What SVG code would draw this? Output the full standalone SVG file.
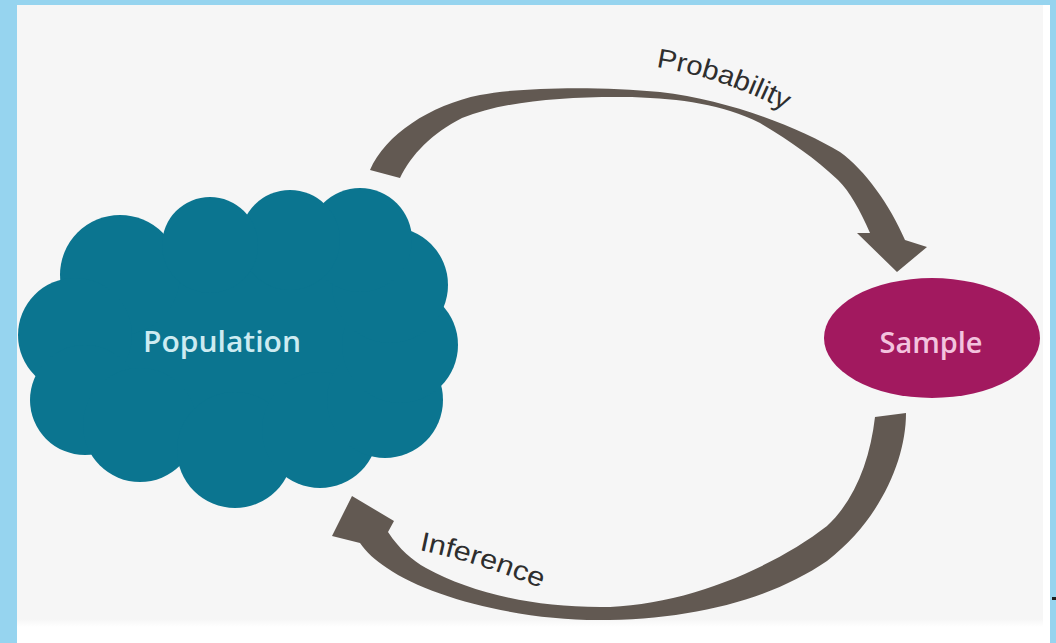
<svg xmlns="http://www.w3.org/2000/svg" width="1056" height="643" viewBox="0 0 1056 643">
  <defs>
    <style>
      .frame { fill: #96d4ef; }
      .sheet { fill: #ffffff; }
      .panel { fill: #f6f6f6; }
      .cloud { fill: #0b7590; }
      .sample { fill: #a2195f; }
      .arrow { fill: #625952; }
      .node-label { font-family: "Open Sans", "Liberation Sans", sans-serif; font-weight: 600; font-size: 28px; text-anchor: middle; }
      .edge-label { font-family: "Liberation Sans", Arial, sans-serif; font-size: 27px; fill: #2e2e2e; }
    </style>
    <linearGradient id="panelFade" x1="0" y1="0" x2="0" y2="1">
      <stop offset="0" stop-color="#f6f6f6"/>
      <stop offset="1" stop-color="#ffffff"/>
    </linearGradient>
    <path id="probPath" d="M 656,67 Q 733,79 808,123"/>
    <path id="infPath" d="M 419,550 Q 482,563 552,593"/>
  </defs>

  <!-- backdrop -->
  <rect class="frame" x="0" y="0" width="1056" height="643"/>
  <rect class="sheet" x="17" y="5" width="1033" height="638"/>
  <rect class="panel" x="17" y="5" width="1026" height="616"/>
  <rect x="17" y="619" width="1026" height="8" fill="url(#panelFade)"/>
  <rect x="1052" y="597" width="4" height="3" fill="#1e1e1e"/>

  <!-- Population cloud -->
  <g id="population">
    <g class="cloud">
      <ellipse cx="240" cy="350" rx="170" ry="120"/>
      <circle cx="120" cy="275" r="60"/>
      <circle cx="75" cy="335" r="57"/>
      <circle cx="85" cy="400" r="55"/>
      <circle cx="140" cy="425" r="57"/>
      <circle cx="235" cy="450" r="58"/>
      <circle cx="320" cy="430" r="58"/>
      <circle cx="385" cy="400" r="58"/>
      <circle cx="400" cy="345" r="58"/>
      <circle cx="390" cy="285" r="58"/>
      <circle cx="360" cy="240" r="52"/>
      <circle cx="290" cy="240" r="50"/>
      <circle cx="210" cy="245" r="48"/>
    </g>
    <text class="node-label" x="222" y="352" fill="#cdebf1" textLength="158" lengthAdjust="spacingAndGlyphs">Population</text>
  </g>

  <!-- Sample ellipse -->
  <g id="sample">
    <ellipse class="sample" cx="932" cy="338" rx="108" ry="60"/>
    <text class="node-label" x="931" y="353" fill="#f3c3de" textLength="103" lengthAdjust="spacingAndGlyphs">Sample</text>
  </g>

  <!-- connectors -->
  <g id="connectors">
    <g id="probability">
      <path class="arrow" d="M 370,170 C 385,135 430,105 480,95 C 520,87 600,86 660,92 C 730,100 800,128 840,152 C 865,170 890,205 905,240 L 927,247 L 897,272 L 857,233 L 870,233 C 860,210 850,192 838,180 C 815,158 790,141 760,123 C 722,104 682,99 632,97 C 566,96 505,101 462,118 C 432,133 411,155 400,178 Z"/>
      <text class="edge-label"><textPath href="#probPath" textLength="137" lengthAdjust="spacingAndGlyphs">Probability</textPath></text>
    </g>
    <g id="inference">
      <path class="arrow" d="M 875,417 L 906,413 C 906,460 880,520 827,561 C 770,600 690,620 598,620 C 520,620 430,598 387,568 C 375,560 366,552 360,543 L 332,536 L 352,496 L 394,521 L 388,532 C 400,550 412,560 426,568 C 470,592 530,607 600,607 C 680,607 770,570 827,526 C 855,500 870,460 875,417 Z"/>
      <text class="edge-label"><textPath href="#infPath" textLength="128" lengthAdjust="spacingAndGlyphs">Inference</textPath></text>
    </g>
  </g>
</svg>
